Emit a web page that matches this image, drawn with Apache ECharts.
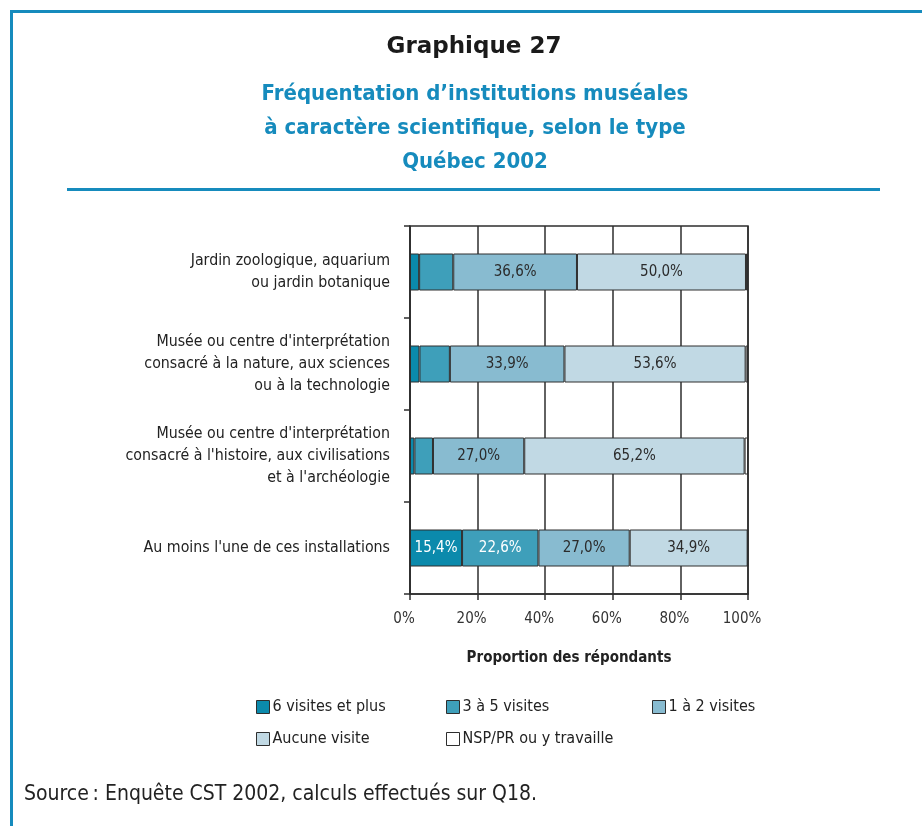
<!doctype html>
<html lang="fr">
<head>
<meta charset="utf-8">
<title>Graphique 27</title>
<script src="https://cdn.jsdelivr.net/npm/echarts@6/dist/echarts.min.js"></script>
<style>
  html, body { margin: 0; padding: 0; background: #fff; }
  #chart { width: 922px; height: 826px; }
</style>
</head>
<body>
<div id="chart"></div>
<script>
var categories = [
    'Jardin zoologique, aquarium\nou jardin botanique',
    "Musée ou centre d'interprétation\nconsacré à la nature, aux sciences\nou à la technologie",
    "Musée ou centre d'interprétation\nconsacré à l'histoire, aux civilisations\net à l'archéologie",
    "Au moins l'une de ces installations"
];
var sixPlus = [2.7, 2.8, 1.3, 15.4];
var troisCinq = [10.1, 9.0, 5.5, 22.6];
var unDeux = [36.6, 33.9, 27.0, 27.0];
var aucune = [50.0, 53.6, 65.2, 34.9];
var nsp = [0.6, 0.7, 1.0, 0.1];
var seriesNames = ['6 visites et plus', '3 à 5 visites', '1 à 2 visites', 'Aucune visite', 'NSP/PR ou y travaille'];
var xTicks = [0, 20, 40, 60, 80, 100];

var FONT = '"DejaVu Sans Condensed", "Liberation Sans Narrow", "DejaVu Sans", sans-serif';
var BLUE = '#168bbd';
var LINE = '#2e2e2e';
var colors = ['#0b8aac', '#3e9fba', '#88bbd0', '#c1d9e4', '#ffffff'];
var labelColors = ['#ffffff', '#ffffff', '#2b2b2b', '#2b2b2b', '#2b2b2b'];

var myChart = echarts.init(document.getElementById('chart'));

function makeSeries(name, data, i) {
    return {
        name: name,
        type: 'bar',
        stack: 'total',
        data: data,
        barWidth: 37,
        itemStyle: { color: colors[i], borderColor: LINE, borderWidth: 1 },
        label: {
            show: true,
            position: 'inside',
            fontFamily: FONT,
            fontSize: 15,
            color: labelColors[i],
            formatter: function (p) {
                if (p.value < 15) return '';
                return p.value.toFixed(1).replace('.', ',') + '%';
            }
        }
    };
}

var legendPos = [[256, 699], [446, 699], [652, 699], [256, 731], [446, 731]];
var legends = seriesNames.map(function (n, i) {
    return {
        data: [n],
        left: legendPos[i][0],
        top: legendPos[i][1],
        padding: 0,
        itemWidth: 13,
        itemHeight: 13,
        itemGap: 4,
        icon: 'rect',
        selectedMode: false,
        itemStyle: { borderColor: LINE, borderWidth: 1 },
        textStyle: { fontFamily: FONT, fontSize: 16, color: '#222', padding: [0, 0, 0, -2] }
    };
});

myChart.setOption({
    backgroundColor: '#fff',
    animation: false,
    legend: legends,
    grid: {
        left: 410, right: 174, top: 226, height: 368,
        show: true, borderColor: LINE, borderWidth: 1.5, backgroundColor: 'transparent'
    },
    xAxis: {
        type: 'value',
        min: 0, max: 100, interval: 20,
        axisLine: { show: true, lineStyle: { color: LINE, width: 1.5 } },
        axisTick: { show: true, length: 6, lineStyle: { color: LINE, width: 1.5 } },
        splitLine: { show: true, lineStyle: { color: LINE, width: 1.5 } },
        axisLabel: {
            margin: 18, fontFamily: FONT, fontSize: 15, color: '#333',
            padding: [0, 12, 0, 0],
            formatter: function (v) { return xTicks.indexOf(v) >= 0 ? v + '%' : ''; }
        },
        name: 'Proportion des répondants',
        nameLocation: 'middle',
        nameGap: 57,
        nameTextStyle: { fontFamily: FONT, fontSize: 15, fontWeight: 'bold', color: '#222', padding: [0, 20, 0, 0] }
    },
    yAxis: {
        type: 'category',
        inverse: true,
        data: categories,
        axisLine: { show: true, lineStyle: { color: LINE, width: 1.5 } },
        axisTick: { show: true, length: 6, lineStyle: { color: LINE, width: 1.5 } },
        splitLine: { show: false },
        axisLabel: {
            margin: 20, fontFamily: FONT, fontSize: 15.8, color: '#222',
            lineHeight: 22, align: 'right'
        }
    },
    series: [
        makeSeries(seriesNames[0], sixPlus, 0),
        makeSeries(seriesNames[1], troisCinq, 1),
        makeSeries(seriesNames[2], unDeux, 2),
        makeSeries(seriesNames[3], aucune, 3),
        makeSeries(seriesNames[4], nsp, 4)
    ],
    graphic: [
        { type: 'rect', shape: { x: 10, y: 10, width: 922, height: 3 }, style: { fill: BLUE } },
        { type: 'rect', shape: { x: 10, y: 10, width: 3, height: 830 }, style: { fill: BLUE } },
        { type: 'rect', shape: { x: 67, y: 188, width: 813, height: 3 }, style: { fill: BLUE } },
        {
            type: 'text', x: 474, y: 47,
            style: { text: 'Graphique 27', fill: '#1a1a1a', font: 'bold 23px "DejaVu Sans", sans-serif', align: 'center', verticalAlign: 'middle' }
        },
        {
            type: 'text', x: 475, y: 128,
            style: {
                text: "Fréquentation d’institutions muséales\nà caractère scientifique, selon le type\nQuébec 2002",
                fill: BLUE, font: 'bold 22px ' + FONT, lineHeight: 34, align: 'center', verticalAlign: 'middle'
            }
        },
        {
            type: 'text', x: 24, y: 795,
            style: { text: 'Source\u2009: Enquête CST 2002, calculs effectués sur Q18.', fill: '#222', font: '21px ' + FONT, verticalAlign: 'middle' }
        }
    ]
});
</script>
</body>
</html>
